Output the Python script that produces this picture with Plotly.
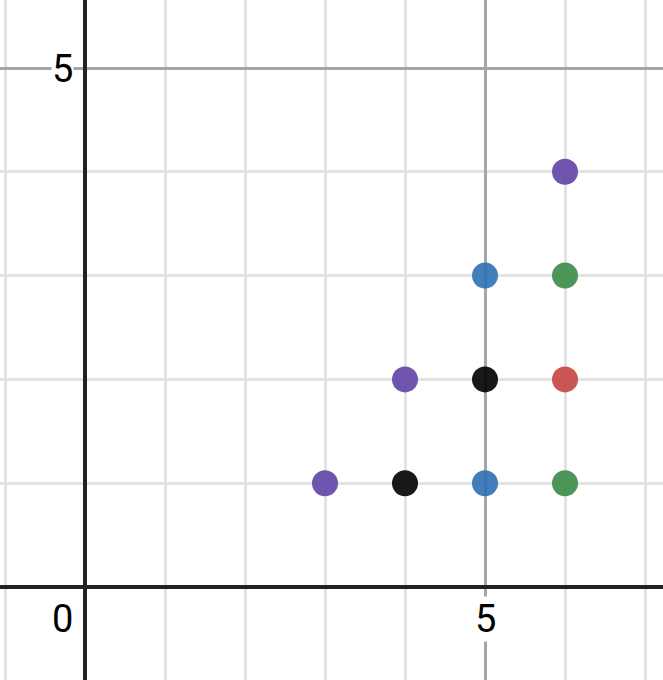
import plotly.graph_objects as go

# data
xs = [3, 4, 5, 6, 4, 5, 6, 5, 6, 6]
ys = [1, 1, 1, 1, 2, 2, 2, 3, 3, 4]
colors = ["#6042a6", "#000000", "#2d70b3", "#388c46",
          "#6042a6", "#000000", "#c74440",
          "#2d70b3", "#388c46",
          "#6042a6"]
x_tick_labels = ["5"]
y_tick_labels = ["5"]

W, H = 663, 680
px_x = 80.0
px_y = 103.8
x0_px, y0_px = 85.0, 587.0
xr = [-x0_px / px_x, (W - x0_px) / px_x]
yr = [-(H - y0_px) / px_y, y0_px / px_y]

fig = go.Figure()
fig.add_trace(go.Scatter(
    x=xs, y=ys, mode="markers",
    marker=dict(size=26, color=colors, opacity=0.9, line=dict(width=0)),
    hoverinfo="skip", showlegend=False))

axis_common = dict(
    showgrid=True, gridcolor="#a6a6a6", gridwidth=2.5,
    zeroline=True, zerolinecolor="#222222", zerolinewidth=3.5,
    showticklabels=False, ticks="", showline=False, fixedrange=True,
    dtick=5, tick0=0,
    minor=dict(dtick=1, tick0=0, showgrid=True, gridcolor="#e3e3e3", gridwidth=2.5, ticks=""),
)
fig.update_xaxes(range=xr, **axis_common)
fig.update_yaxes(range=yr, **axis_common)

font = dict(family="Roboto, Arial, sans-serif", size=38, color="#000000")
for t in x_tick_labels:
    fig.add_annotation(x=float(t), y=0, text=t, showarrow=False, font=font,
                       yshift=-32, bgcolor="white", borderpad=0)
for t in y_tick_labels:
    fig.add_annotation(x=0, y=float(t), text=t, showarrow=False, font=font,
                       xshift=-23, yshift=-1, bgcolor="white", borderpad=0)
fig.add_annotation(x=0, y=0, text="0", showarrow=False, font=font,
                   xshift=-23, yshift=-32)

fig.update_layout(width=W, height=H, margin=dict(l=0, r=0, t=0, b=0),
                  plot_bgcolor="white", paper_bgcolor="white")
fig.write_html("out.html", config={"displayModeBar": False},
               post_script="document.body.style.margin='0';document.body.style.overflow='hidden';")
